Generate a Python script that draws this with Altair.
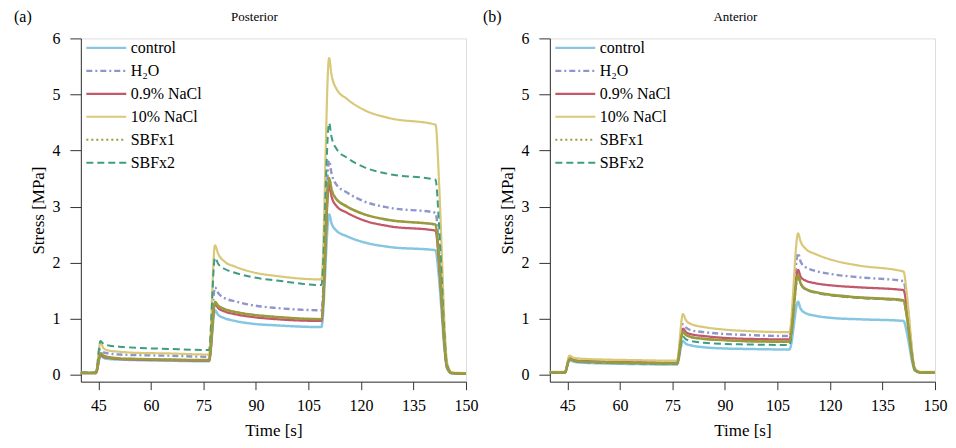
import altair as alt
import pandas as pd

series = ["control", "H₂O", "0.9% NaCl", "10% NaCl", "SBFx1", "SBFx2"]

# ---------- Posterior (a) ----------
time_post = [40, 44.3, 45.6, 46.5, 48, 51, 56, 65, 76.6, 78.3, 79.2, 81, 84, 89, 96, 108.7,
             110.9, 111.6, 113, 116, 121, 128, 141.3, 142.2, 143, 143.8, 144.6, 146, 150]
post_control = [0.03, 0.03, 0.34, 0.30, 0.28, 0.27, 0.26, 0.25, 0.24, 1.15, 1.07, 1.01, 0.96, 0.91, 0.88, 0.85,
                2.86, 2.70, 2.57, 2.47, 2.36, 2.28, 2.22, 1.78, 1.15, 0.49, 0.11, 0.02, 0.02]
post_h2o = [0.04, 0.04, 0.45, 0.40, 0.38, 0.36, 0.35, 0.34, 0.32, 1.56, 1.46, 1.37, 1.31, 1.24, 1.19, 1.15,
            3.82, 3.59, 3.39, 3.25, 3.09, 2.98, 2.89, 2.31, 1.50, 0.64, 0.14, 0.03, 0.02]
post_nacl09 = [0.03, 0.03, 0.36, 0.32, 0.30, 0.28, 0.27, 0.26, 0.25, 1.26, 1.19, 1.13, 1.08, 1.03, 0.99, 0.96,
               3.39, 3.18, 3.01, 2.89, 2.75, 2.65, 2.57, 2.06, 1.34, 0.57, 0.13, 0.03, 0.02]
post_nacl10 = [0.04, 0.04, 0.58, 0.47, 0.43, 0.41, 0.39, 0.38, 0.36, 2.31, 2.16, 2.02, 1.93, 1.83, 1.76, 1.70,
               5.65, 5.35, 5.10, 4.92, 4.72, 4.58, 4.46, 3.57, 2.32, 0.98, 0.22, 0.04, 0.03]
post_sbf1 = [0.03, 0.03, 0.38, 0.34, 0.31, 0.29, 0.28, 0.27, 0.26, 1.30, 1.23, 1.17, 1.12, 1.07, 1.03, 0.99,
             3.51, 3.30, 3.13, 3.00, 2.86, 2.76, 2.68, 2.14, 1.39, 0.59, 0.13, 0.03, 0.02]
post_sbf2 = [0.04, 0.04, 0.60, 0.55, 0.52, 0.50, 0.48, 0.46, 0.44, 2.09, 1.98, 1.89, 1.82, 1.74, 1.68, 1.60,
             4.49, 4.24, 4.03, 3.87, 3.70, 3.58, 3.48, 2.78, 1.81, 0.77, 0.17, 0.03, 0.02]

# ---------- Anterior (b) ----------
time_ant = [40, 44.3, 45.6, 46.5, 48, 51, 56, 65, 76.3, 78.0, 78.9, 80.5, 84, 89, 96, 108.4,
            110.9, 111.6, 113, 116, 121, 128, 141.0, 141.9, 142.7, 143.5, 144.3, 146, 150]
ant_control = [0.04, 0.04, 0.26, 0.24, 0.22, 0.21, 0.20, 0.19, 0.18, 0.60, 0.55, 0.52, 0.49, 0.47, 0.46, 0.45,
               1.30, 1.18, 1.10, 1.05, 1.01, 0.99, 0.96, 0.77, 0.50, 0.22, 0.07, 0.04, 0.04]
ant_h2o = [0.04, 0.04, 0.30, 0.27, 0.25, 0.24, 0.23, 0.22, 0.21, 0.90, 0.84, 0.79, 0.76, 0.73, 0.71, 0.69,
           2.17, 2.02, 1.92, 1.85, 1.79, 1.74, 1.67, 1.34, 0.87, 0.37, 0.10, 0.04, 0.04]
ant_nacl09 = [0.04, 0.04, 0.29, 0.27, 0.25, 0.24, 0.23, 0.22, 0.21, 0.82, 0.76, 0.72, 0.69, 0.66, 0.64, 0.63,
              1.87, 1.75, 1.68, 1.63, 1.59, 1.56, 1.51, 1.21, 0.79, 0.33, 0.09, 0.04, 0.04]
ant_nacl10 = [0.05, 0.05, 0.34, 0.31, 0.29, 0.28, 0.27, 0.26, 0.25, 1.08, 0.97, 0.90, 0.85, 0.81, 0.78, 0.76,
              2.52, 2.38, 2.25, 2.15, 2.04, 1.95, 1.84, 1.47, 0.96, 0.40, 0.10, 0.05, 0.05]
ant_sbf1 = [0.04, 0.04, 0.28, 0.26, 0.24, 0.23, 0.22, 0.21, 0.20, 0.76, 0.71, 0.67, 0.64, 0.62, 0.60, 0.59,
            1.78, 1.63, 1.53, 1.47, 1.42, 1.38, 1.33, 1.06, 0.69, 0.29, 0.08, 0.04, 0.04]
ant_sbf2 = [0.04, 0.04, 0.27, 0.25, 0.23, 0.22, 0.21, 0.20, 0.19, 0.68, 0.63, 0.60, 0.57, 0.55, 0.54, 0.53,
            1.76, 1.62, 1.52, 1.46, 1.41, 1.37, 1.32, 1.06, 0.69, 0.29, 0.08, 0.04, 0.04]

x_ticks = [45, 52.5, 60, 67.5, 75, 82.5, 90, 97.5, 105, 112.5, 120, 127.5, 135, 142.5, 150]
y_ticks = [0, 0.5, 1, 1.5, 2, 2.5, 3, 3.5, 4, 4.5, 5, 5.5, 6]

# styles
colors = ["#86c6e2", "#8e96cc", "#c2586a", "#d8c878", "#9c9a3e", "#3e9c84"]
dashes = [[1, 0], [6, 3, 2, 3], [1, 0], [1, 0], [2, 3], [7, 4]]
widths = [2.5, 2, 2, 5.5, 3, 2.2]
FONT = "Liberation Serif"
W, H = 386, 344


def make_df(times, cols):
    rows = []
    for k, (s, ys) in enumerate(zip(series, cols)):
        for t, y in zip(times, ys):
            rows.append({"series": s, "k": k, "t": t, "y": y})
    return pd.DataFrame(rows)


def panel(df, title, tag, title_x):
    leg = alt.Legend(orient="none", legendX=4, legendY=-2, title=None, symbolType="stroke",
                     symbolSize=1600, symbolStrokeWidth=1.5, clipHeight=23, rowPadding=0,
                     labelFont=FONT, labelFontSize=16, labelColor="black", labelOffset=3,
                     padding=0)
    xax = alt.Axis(values=x_ticks, labelExpr="datum.value % 15 === 0 ? format(datum.value, 'd') : ''",
                   tickSize={"condition": {"test": "datum.value % 15 === 0", "value": 8}, "value": 5},
                   labelFont=FONT, labelFontSize=16, labelColor="black", labelPadding=8,
                   labelOverlap=False, labelFlush=False, grid=False,
                   title="Time [s]", titleFont=FONT, titleFontSize=17, titleFontWeight="normal",
                   titleColor="black", titlePadding=9, domainColor="#333", tickColor="#333")
    yax = alt.Axis(values=y_ticks, labelExpr="datum.value % 1 === 0 ? format(datum.value, 'd') : ''",
                   tickSize={"condition": {"test": "datum.value % 1 === 0", "value": 11}, "value": 6},
                   labelFont=FONT, labelFontSize=16, labelColor="black", labelPadding=10,
                   labelOverlap=False, labelFlush=False, grid=False,
                   title="Stress [MPa]", titleFont=FONT, titleFontSize=17, titleFontWeight="normal",
                   titleColor="black", titlePadding=4, domainColor="#333", tickColor="#333")
    xenc = alt.X("t:Q", scale=alt.Scale(domain=[40, 150], nice=False, zero=False), axis=xax)
    yenc = alt.Y("y:Q", scale=alt.Scale(domain=[-0.124, 6], nice=False), axis=yax)
    lines = alt.Chart(df).mark_line(interpolate="monotone").encode(
        x=xenc,
        y=yenc,
        color=alt.Color("series:N", scale=alt.Scale(domain=series, range=colors), legend=leg),
        strokeDash=alt.StrokeDash("series:N", scale=alt.Scale(domain=series, range=dashes), legend=leg),
        strokeWidth=alt.StrokeWidth("series:N", scale=alt.Scale(domain=series, range=widths), legend=None),
        order=alt.Order("k:Q"),
    )
    # thick SBFx1 trace reads as solid in the plot
    sbf1_solid = alt.Chart(df).transform_filter(alt.datum.series == "SBFx1").mark_line(
        interpolate="monotone", color=colors[4], strokeWidth=2.6
    ).encode(x="t:Q", y="y:Q")
    tag_text = alt.Chart(pd.DataFrame({"tag": [tag]})).mark_text(
        font=FONT, fontSize=16, align="left", baseline="middle", color="black"
    ).encode(x=alt.value(-67), y=alt.value(-21), text="tag:N")
    title_text = alt.Chart(pd.DataFrame({"title": [title]})).mark_text(
        font=FONT, fontSize=13, align="center", baseline="middle", color="black"
    ).encode(x=alt.value(title_x), y=alt.value(-21), text="title:N")
    return alt.layer(lines, sbf1_solid, tag_text, title_text).properties(width=W, height=H)


df_post = make_df(time_post, [post_control, post_h2o, post_nacl09, post_nacl10, post_sbf1, post_sbf2])
df_ant = make_df(time_ant, [ant_control, ant_h2o, ant_nacl09, ant_nacl10, ant_sbf1, ant_sbf2])

chart = alt.hconcat(
    panel(df_post, "Posterior", "(a)", 174),
    panel(df_ant, "Anterior", "(b)", 186),
    spacing=3,
).resolve_scale(
    color="independent", strokeDash="independent", strokeWidth="independent"
).configure_view(stroke=None).configure(font=FONT).configure_axis(
    labelFont=FONT, titleFont=FONT
).configure_legend(labelFont=FONT).properties(padding={"left": 5, "top": 0, "right": 0, "bottom": 0})

chart.save("out.html", embed_options={"renderer": "svg", "actions": False})
